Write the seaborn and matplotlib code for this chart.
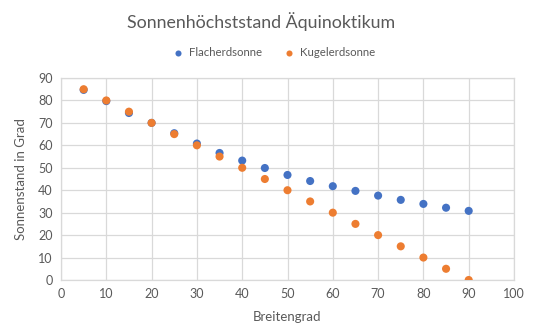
import matplotlib
matplotlib.use("Agg")
import matplotlib.pyplot as plt
import seaborn as sns
import pandas as pd

breitengrad = [5, 10, 15, 20, 25, 30, 35, 40, 45, 50, 55, 60, 65, 70, 75, 80, 85, 90]
flacherdsonne = [84.7, 79.7, 74.4, 70.0, 65.4, 60.8, 56.6, 53.2, 49.9, 46.8, 44.1, 41.8, 39.7, 37.6, 35.7, 33.9, 32.2, 30.8]
kugelerdsonne = [85, 80, 75, 70, 65, 60, 55, 50, 45, 40, 35, 30, 25, 20, 15, 10, 5, 0]
series_names = ["Flacherdsonne", "Kugelerdsonne"]
x_ticks = [0, 10, 20, 30, 40, 50, 60, 70, 80, 90, 100]
y_ticks = [0, 10, 20, 30, 40, 50, 60, 70, 80, 90]

df = pd.DataFrame({
    "Breitengrad": breitengrad * 2,
    "Wert": flacherdsonne + kugelerdsonne,
    "Serie": [series_names[0]] * len(breitengrad) + [series_names[1]] * len(breitengrad),
})

sns.set_style("white")
plt.rcParams["font.family"] = ["Lato", "DejaVu Sans"]
text_col = "#595959"
grid_col = "#d9d9d9"

fig = plt.figure(figsize=(5.37, 3.35), dpi=100)
ax = fig.add_axes([61/537, 1-280/335, (514-61)/537, (280-78)/335])

sns.scatterplot(data=df, x="Breitengrad", y="Wert", hue="Serie",
                palette=["#4472C4", "#ED7D31"], s=34, edgecolor="none",
                ax=ax, zorder=3, legend=True)

ax.set_xlim(0, 100)
ax.set_ylim(0, 90)
ax.set_xticks(x_ticks)
ax.set_yticks(y_ticks)
ax.grid(True, color=grid_col, linewidth=0.9)
ax.set_axisbelow(True)
for s in ax.spines.values():
    s.set_color(grid_col)
    s.set_linewidth(0.9)
ax.tick_params(axis="both", length=0, labelsize=9, labelcolor=text_col, pad=6)
ax.set_xlabel("Breitengrad", fontsize=9.5, color=text_col, labelpad=8)
ax.set_ylabel("Sonnenstand in Grad", fontsize=9.5, color=text_col, labelpad=8)

fig.text(261/537, 1-22/335, "Sonnenhöchststand Äquinoktikum", ha="center", va="center",
         fontsize=12.8, color=text_col)

handles, labels = ax.get_legend_handles_labels()
ax.legend(handles, labels, loc="center", bbox_to_anchor=(271/537, 1-53/335),
          bbox_transform=fig.transFigure, ncol=2, frameon=False, fontsize=8.2,
          labelcolor=text_col, handletextpad=0.0, columnspacing=1.3,
          markerscale=0.75)

fig.savefig("out.png", dpi=100, facecolor="white")
